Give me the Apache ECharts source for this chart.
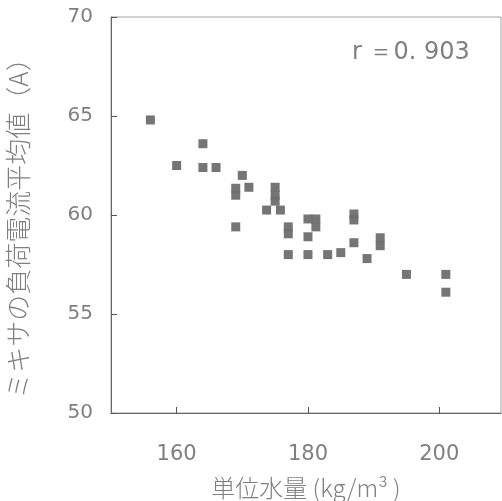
<!DOCTYPE html>
<html>
<head>
<meta charset="utf-8">
<script src="https://cdn.jsdelivr.net/npm/echarts@6/dist/echarts.min.js"></script>
<style>html,body{margin:0;padding:0;background:#fff}#c{width:502px;height:501px}</style>
</head>
<body>
<div id="c"></div>
<script>
var waterContent = [156, 160, 164, 164, 166, 170, 171, 169, 169, 169,
  175, 175, 175, 173.7, 175.8, 177, 177, 177, 180, 183, 185,
  180, 181.2, 181.2, 180, 187, 187, 187, 189, 191, 191, 195, 201, 201];
var mixerCurrent = [64.8, 62.5, 63.6, 62.4, 62.4, 62.0, 61.4, 61.35, 61.0, 59.4,
  61.4, 61.0, 60.7, 60.25, 60.25, 59.4, 59.05, 58.0, 58.0, 58.0, 58.1,
  59.8, 59.8, 59.4, 58.9, 60.05, 59.75, 58.6, 57.8, 58.85, 58.45, 57.0, 57.0, 56.1];
var xTicks = [160, 180, 200];
var yTicks = [50, 55, 60, 65, 70];
var rText = 'r \uFF1D0. 903';

var points = waterContent.map(function (x, i) { return [x, mixerCurrent[i]]; });
var chart = echarts.init(document.getElementById('c'));
var txt = '#808080';
chart.setOption({
  animation: false,
  grid: { left: 111, top: 17, width: 390, height: 396, show: true, borderColor: '#a0a0a0', borderWidth: 1,
          containLabel: false, outerBoundsMode: 'none' },
  xAxis: {
    type: 'value', min: 150, max: 209.4,
    name: '単位水量 (kg/m\u00B3 )', nameLocation: 'middle', nameGap: 63,
    nameTextStyle: { color: txt, fontSize: 24, fontWeight: 300, fontFamily: 'Noto Sans CJK JP' },
    axisLine: { lineStyle: { color: '#666', width: 1 } },
    axisTick: { show: true, inside: true, length: 6, customValues: xTicks, lineStyle: { color: '#555' } },
    axisLabel: { customValues: xTicks, color: txt, fontSize: 21, margin: 31, fontFamily: 'DejaVu Sans' },
    splitLine: { show: false }
  },
  yAxis: {
    type: 'value', min: 50, max: 70, interval: 5,
    name: 'ミキサの負荷電流平均値（A）', nameLocation: 'middle', nameGap: 80, nameRotate: 90,
    nameTextStyle: { color: txt, fontSize: 26, fontWeight: 300, fontFamily: 'Noto Sans CJK JP', padding: [0, 14, 0, 0] },
    axisLine: { lineStyle: { color: '#666', width: 1 } },
    axisTick: { show: true, inside: true, length: 6, customValues: yTicks, lineStyle: { color: '#555' } },
    axisLabel: { customValues: yTicks, color: txt, fontSize: 20, margin: 18, fontFamily: 'DejaVu Sans' },
    splitLine: { show: false }
  },
  graphic: [{
    type: 'text', left: 352, top: 41,
    style: { text: rText, fill: '#808080', fontSize: 24, fontFamily: 'DejaVu Sans' }
  }],
  series: [{
    type: 'scatter', data: points, symbol: 'rect', symbolSize: 9,
    itemStyle: { color: '#6e6e6e', opacity: 0.95 }
  }]
});
</script>
</body>
</html>
